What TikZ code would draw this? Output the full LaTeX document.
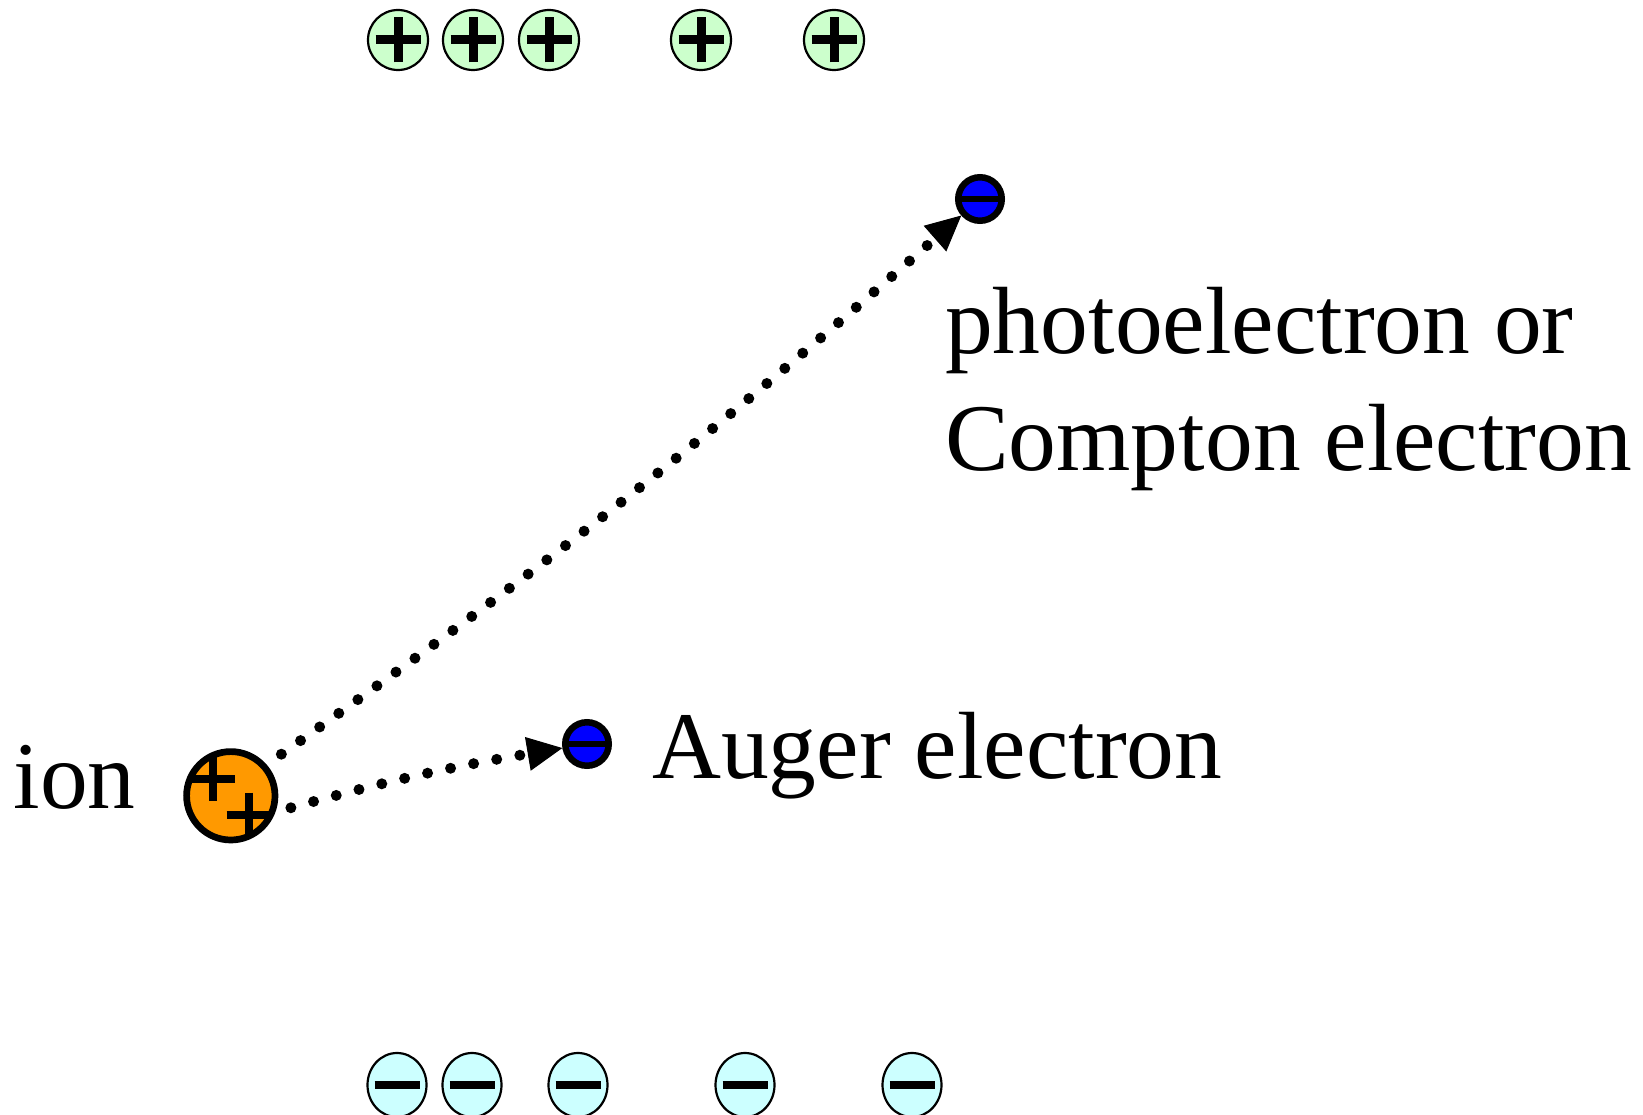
\documentclass[tikz,border=0pt]{standalone}
\usepackage{fontspec}
\setmainfont{Liberation Serif}
\usetikzlibrary{arrows.meta,shapes.geometric}

\definecolor{ionorange}{HTML}{FF9900}
\definecolor{posgreen}{HTML}{CCFFCC}
\definecolor{negcyan}{HTML}{CCFFFF}
\definecolor{elblue}{HTML}{0000FF}

\tikzset{
  % positive charges along the top
  poscharge/.style={circle, draw=black, line width=2.2pt, fill=posgreen,
    minimum size=60pt, inner sep=0pt,
    path picture={
      \draw[line width=9pt]
        ([xshift=-22.5pt]path picture bounding box.center) --
        ([xshift=22.5pt]path picture bounding box.center);
      \draw[line width=9pt]
        ([yshift=-22.5pt]path picture bounding box.center) --
        ([yshift=22.5pt]path picture bounding box.center);
    }},
  % negative charges along the bottom
  negcharge/.style={ellipse, draw=black, line width=2.2pt, fill=negcyan,
    minimum width=59pt, minimum height=64pt, inner sep=0pt,
    path picture={
      \draw[line width=8pt]
        ([xshift=-22.5pt]path picture bounding box.center) --
        ([xshift=22.5pt]path picture bounding box.center);
    }},
  % doubly charged ion
  ionball/.style={circle, draw=black, line width=6.7pt, fill=ionorange,
    minimum size=88.4pt, inner sep=0pt,
    path picture={
      \draw[line width=8pt]
        ([xshift=-40.8pt,yshift=17.3pt]path picture bounding box.center) --
        ([xshift=4.2pt,yshift=17.3pt]path picture bounding box.center);
      \draw[line width=8pt]
        ([xshift=-18.3pt,yshift=39.8pt]path picture bounding box.center) --
        ([xshift=-18.3pt,yshift=-5.2pt]path picture bounding box.center);
      \draw[line width=8pt]
        ([xshift=-4.3pt,yshift=-19.2pt]path picture bounding box.center) --
        ([xshift=40.7pt,yshift=-19.2pt]path picture bounding box.center);
      \draw[line width=8pt]
        ([xshift=18.2pt,yshift=3.3pt]path picture bounding box.center) --
        ([xshift=18.2pt,yshift=-41.7pt]path picture bounding box.center);
    }},
  % emitted electrons
  electron/.style={circle, draw=black, line width=6.5pt, fill=elblue,
    minimum size=43.5pt, inner sep=0pt,
    path picture={
      \draw[line width=6pt]
        (path picture bounding box.west) -- (path picture bounding box.east);
    }},
  lbl/.style={anchor=base west, inner sep=0pt,
    font=\fontsize{95.5}{117}\selectfont},
  track/.style={line width=11pt, line cap=round,
    dash pattern=on 0pt off 23.5pt,
    -{Triangle[length=35pt,width=34pt,line width=1pt]}},
}

\begin{document}
\begin{tikzpicture}[x=1pt,y=-1pt]
\useasboundingbox (0,0) rectangle (1643,1115);

% positive charges
\node[poscharge] (p1) at (398,40) {};
\node[poscharge] (p2) at (473,40) {};
\node[poscharge] (p3) at (549,40) {};
\node[poscharge] (p4) at (701,40) {};
\node[poscharge] (p5) at (834,40) {};

% negative charges
\node[negcharge] (m1) at (397,1085) {};
\node[negcharge] (m2) at (472,1085) {};
\node[negcharge] (m3) at (578,1085) {};
\node[negcharge] (m4) at (745,1085) {};
\node[negcharge] (m5) at (912,1085) {};

% ion and electrons
\node[ionball] (ion) at (230.8,795.8) {};
\node[electron] (auger) at (587,744) {};
\node[electron] (photo) at (980,199) {};

% labels (the two-line label is anchored on its last baseline)
\node[lbl] (ionlbl) at (13.5,808.5) {ion};
\node[lbl] (augerlbl) at (652,778.5) {Auger electron};
\node[lbl, align=left] (photolbl) at (945,470) {photoelectron or\\Compton electron};

% electron tracks
\draw[track, shorten <=18pt] (ion.41) to[bend right=3] (photo);
\draw[track, shorten <=16pt] (ion.-20) to[bend left=3] (auger);
\end{tikzpicture}
\end{document}
